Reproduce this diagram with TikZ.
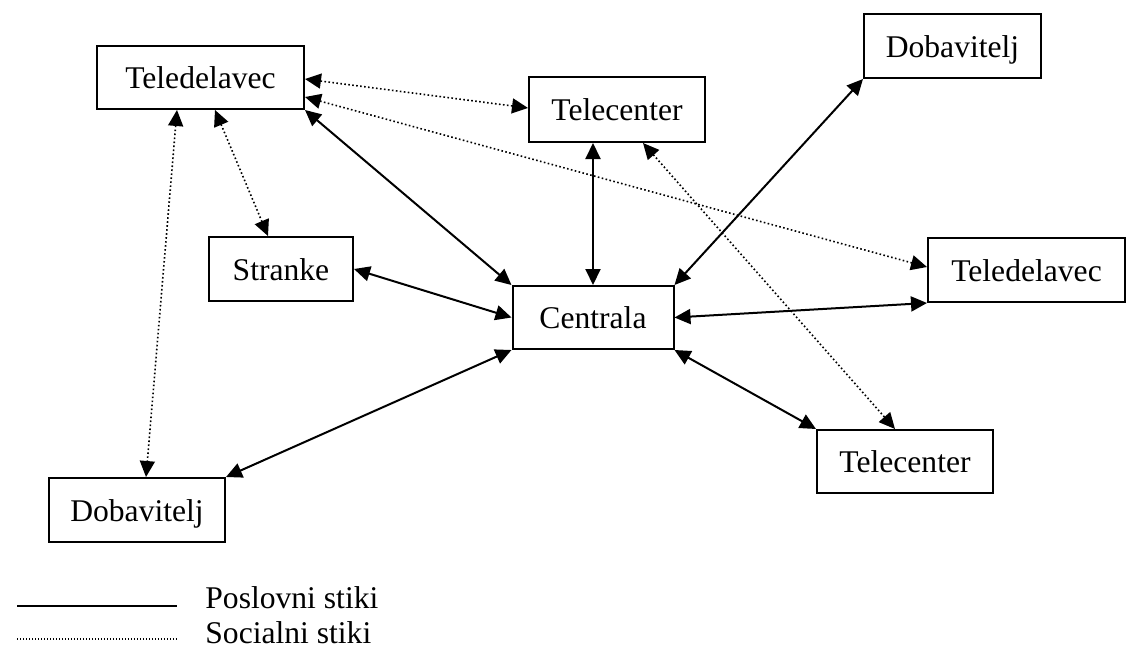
\documentclass[tikz,border=0pt]{standalone}
\usepackage{fontspec}
\setmainfont{Liberation Serif}
\usetikzlibrary{arrows.meta,calc}
\begin{document}
\begin{tikzpicture}[x=0.5pt,y=-0.5pt,
  >={Triangle[length=8pt,width=7.5pt]},
  txt/.style={font=\fontsize{15.8}{19}\selectfont},
  box/.style={draw,line width=1pt,inner sep=0pt,txt,text height=11pt,text depth=0pt},
  biz/.style={line width=1pt,<->},
  soc/.style={line width=0.8pt,dash pattern=on 0.8pt off 1.2pt,<->},
  lbl/.style={anchor=base west,inner sep=0pt,txt}]
\useasboundingbox (0,0) rectangle (1126,648);

\node[box,minimum width=103.5pt,minimum height=31.5pt] (ta)  at (200.5,77.5) {Teledelavec};
\node[box,minimum width=88pt,minimum height=32.5pt]    (tc1) at (617,109.5) {Telecenter};
\node[box,minimum width=88.5pt,minimum height=32pt]    (d1)  at (952.5,46) {Dobavitelj};
\node[box,minimum width=72pt,minimum height=32pt]      (st)  at (281,269) {Stranke};
\node[box,minimum width=80.5pt,minimum height=31.5pt]  (ce)  at (593,317.5) {Centrala};
\node[box,minimum width=98.5pt,minimum height=32pt]    (tb)  at (1026.5,270) {Teledelavec};
\node[box,minimum width=88pt,minimum height=31.5pt]    (tc2) at (905,461.5) {Telecenter};
\node[box,minimum width=88pt,minimum height=32pt]      (d2)  at (137,510) {Dobavitelj};

% business contacts
\draw[biz] (ta.south east) -- (ce.north west);
\draw[biz] (tc1.south -| ce.north) -- (ce.north);
\draw[biz] (d1.south west) -- (ce.north east);
\draw[biz] (st.east) -- (ce.west);
\draw[biz] (tb.south west) -- (ce.east);
\draw[biz] (tc2.north west) -- (ce.south east);
\draw[biz] (d2.north east) -- (ce.south west);

% social contacts
\draw[soc] ($(ta.east)+(0,1.5)$) -- ($(tc1.west)+(0,-1.5)$);
\draw[soc] ($(ta.east)+(0,19.5)$) -- ($(tb.west)+(0,-3)$);
\draw[soc] ($(ta.south)+(-23.5,0)$) -- ($(d2.north)+(9,0)$);
\draw[soc] ($(ta.south)+(14.5,0)$) -- ($(st.north)+(-13,0)$);
\draw[soc] ($(tc1.south)+(26,0)$) -- ($(tc2.north)+(-10,0)$);

% legend
\coordinate (l1a) at (17,606);
\coordinate (l1b) at (177,606);
\coordinate (l2a) at (17,639);
\coordinate (l2b) at (177,639);
\draw[line width=1pt] (l1a) -- (l1b);
\draw[line width=0.6pt,dash pattern=on 0.6pt off 0.9pt] (l2a) -- (l2b);
\node[lbl] (lp) at (205,608) {Poslovni stiki};
\node[lbl] (ls) at (205,643) {Socialni stiki};
\end{tikzpicture}
\end{document}
